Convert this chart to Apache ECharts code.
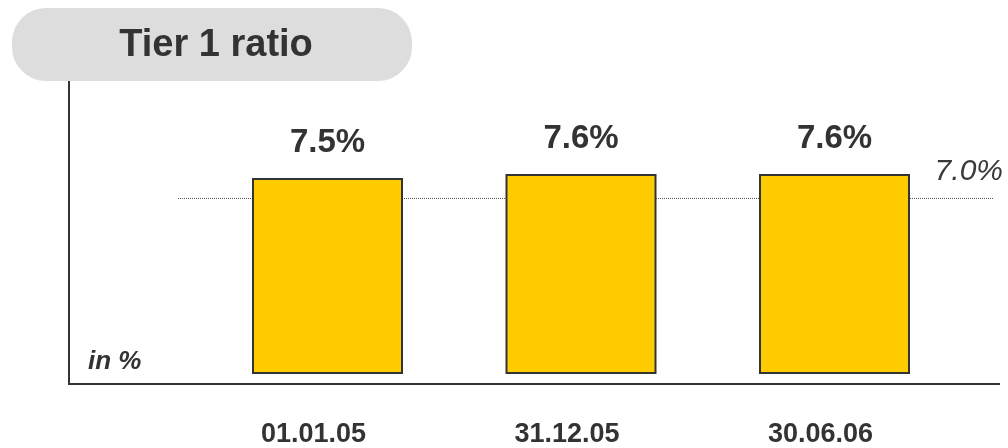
<!DOCTYPE html>
<html>
<head>
<meta charset="utf-8">
<script src="https://cdn.jsdelivr.net/npm/echarts@6/dist/echarts.min.js"></script>
<style>
  html, body { margin: 0; padding: 0; background: #ffffff; }
  #chart { width: 1008px; height: 448px; }
</style>
</head>
<body>
<div id="chart"></div>
<script>
// Tier 1 capital ratio at three reporting dates, with the 7.0% target line
const categories = ['01.01.05', '31.12.05', '30.06.06'];
const tier1Ratio = [7.5, 7.6, 7.6];
const targetRatio = 7.0;
const axisStart = 2.6;   // bars grow up from this value
const axisEnd = 9.6;
const chartTitle = 'Tier 1 ratio';
const unitLabel = 'in %';

const narrowFont = "'Liberation Sans Narrow', 'Arial Narrow', 'Liberation Sans', Arial, sans-serif";
const sansFont = "'Liberation Sans', Arial, sans-serif";
const ink = '#333333';

const chart = echarts.init(document.getElementById('chart'), null, { renderer: 'canvas' });

chart.setOption({
  animation: false,
  grid: { left: 200.75, right: 46.75, top: 94, bottom: 74 },
  xAxis: {
    type: 'category',
    data: categories,
    axisLine: { show: false },
    axisTick: { show: false },
    splitLine: { show: false },
    axisLabel: {
      margin: 47,
      fontFamily: narrowFont,
      fontWeight: 'bold',
      fontSize: 27,
      color: ink,
      padding: [0, 28, 0, 0]
    }
  },
  yAxis: {
    type: 'value',
    min: axisStart,
    max: axisEnd,
    startValue: axisStart,
    show: false
  },
  series: [{
    type: 'bar',
    data: tier1Ratio,
    barWidth: 151,
    itemStyle: { color: '#FFCC00', borderColor: ink, borderWidth: 2 },
    label: {
      show: true,
      position: 'top',
      distance: 19,
      formatter: p => p.value.toFixed(1) + '%',
      fontFamily: narrowFont,
      fontWeight: 'bold',
      fontSize: 33,
      color: ink
    },
    markLine: {
      z: 1,
      silent: true,
      symbol: 'none',
      lineStyle: { type: 'dotted', color: '#555555', width: 1 },
      label: {
        show: true,
        position: 'insideEndTop',
        distance: [-10, 11],
        formatter: () => targetRatio.toFixed(1) + '%',
        fontFamily: sansFont,
        fontStyle: 'italic',
        fontSize: 30,
        color: '#3a3a3a'
      },
      data: [[{ x: 178, yAxis: targetRatio }, { x: 993, yAxis: targetRatio }]]
    }
  }],
  graphic: [
    {
      type: 'rect',
      shape: { x: 12, y: 8, width: 400, height: 73, r: 34 },
      style: { fill: '#DDDDDD' }
    },
    {
      type: 'text',
      style: {
        text: chartTitle,
        x: 216, y: 46,
        align: 'center',
        verticalAlign: 'middle',
        font: "bold 38px 'Liberation Sans', Arial, sans-serif",
        fill: ink
      }
    },
    {
      type: 'polyline',
      shape: { points: [[69, 81], [69, 384], [1000, 384]] },
      style: { stroke: ink, lineWidth: 2, fill: null }
    },
    {
      type: 'text',
      style: {
        text: unitLabel,
        x: 88, y: 362,
        align: 'left',
        verticalAlign: 'middle',
        font: "italic bold 26px 'Liberation Sans', Arial, sans-serif",
        fill: ink
      }
    }
  ]
});
</script>
</body>
</html>
